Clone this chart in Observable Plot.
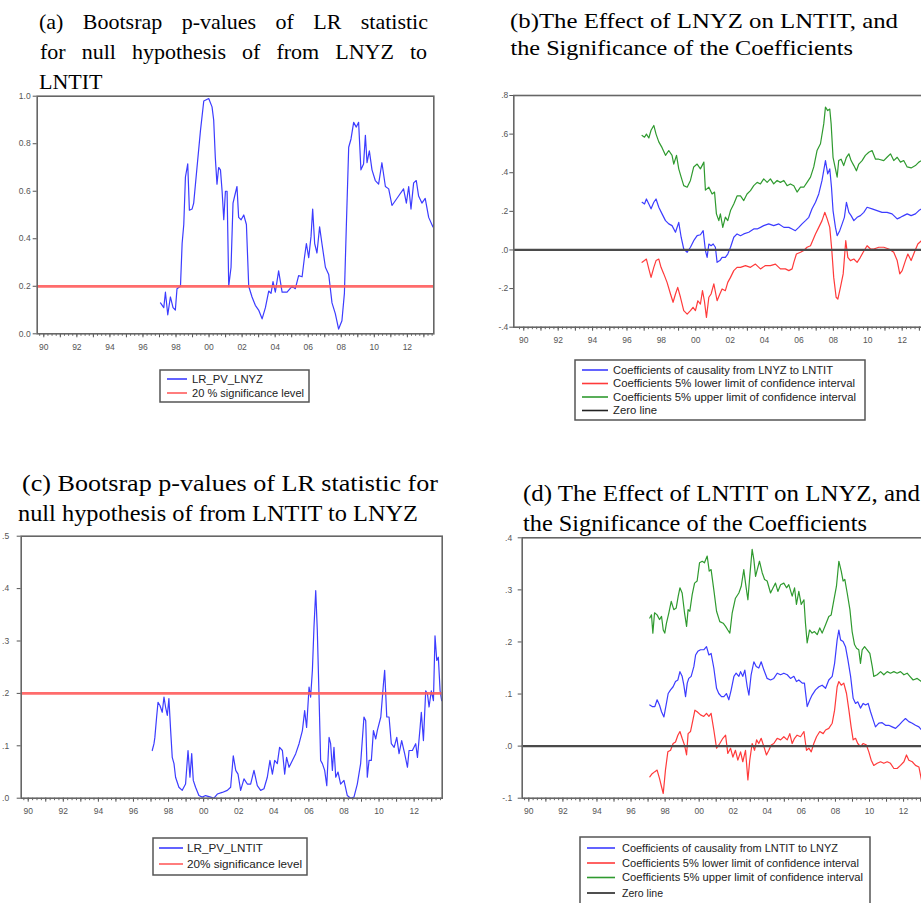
<!DOCTYPE html>
<html><head><meta charset="utf-8">
<script src="https://cdn.jsdelivr.net/npm/d3@7"></script>
<script src="https://cdn.jsdelivr.net/npm/@observablehq/plot@0.6"></script>
<style>
html,body{margin:0;padding:0;background:#fff;overflow:hidden;}
#page{position:relative;width:921px;height:903px;overflow:hidden;background:#fff;}
#page svg{position:absolute;}
</style></head>
<body><div id="page"></div>
<script>
// ---------- tick labels ----------
const xLabelYears = [1990,1992,1994,1996,1998,2000,2002,2004,2006,2008,2010,2012];
const yTicksA = [0,0.2,0.4,0.6,0.8,1.0];
const yTicksB = [-0.4,-0.2,0,0.2,0.4,0.6,0.8];
const yTicksC = [0,0.1,0.2,0.3,0.4,0.5];
const yTicksD = [-0.1,0,0.1,0.2,0.3,0.4];
const sigLevel = 0.2;
const zeroLevel = 0;

// ---------- titles & legend labels ----------
const titleA = ["(a) Bootsrap p-values of LR statistic","for null hypothesis of from LNYZ to","LNTIT"];
const titleB = ["(b)The Effect of LNYZ on LNTIT, and","the Significance of the Coefficients"];
const titleC = ["(c) Bootsrap p-values of LR statistic for","null hypothesis of from LNTIT to LNYZ"];
const titleD = ["(d) The Effect of LNTIT on LNYZ, and","the Significance of the Coefficients"];
const legendA = ["LR_PV_LNYZ","20 % significance level"];
const legendB = ["Coefficients of causality from LNYZ to LNTIT","Coefficients 5% lower limit of confidence interval","Coefficients 5% upper limit of confidence interval","Zero line"];
const legendC = ["LR_PV_LNTIT","20% significance level"];
const legendD = ["Coefficients of causality from LNTIT to LNYZ","Coefficients 5% lower limit of confidence interval","Coefficients 5% upper limit of confidence interval","Zero line"];

// ---------- data (decimal year, value) ----------
const lrPvLnyz = [[1997.06,0.13],[1997.26,0.11],[1997.36,0.175],[1997.50,0.08],[1997.66,0.155],[1997.82,0.11],[1997.96,0.10],[1998.06,0.19],[1998.27,0.20],[1998.37,0.38],[1998.47,0.46],[1998.57,0.66],[1998.71,0.715],[1998.81,0.52],[1998.97,0.525],[1999.07,0.55],[1999.27,0.70],[1999.48,0.855],[1999.68,0.98],[1999.98,0.99],[2000.18,0.955],[2000.28,0.90],[2000.38,0.74],[2000.48,0.63],[2000.58,0.70],[2000.69,0.69],[2000.79,0.60],[2000.89,0.48],[2000.99,0.60],[2001.09,0.60],[2001.19,0.20],[2001.33,0.28],[2001.45,0.55],[2001.55,0.58],[2001.69,0.62],[2001.79,0.49],[2001.94,0.48],[2002.10,0.50],[2002.26,0.46],[2002.40,0.20],[2002.60,0.155],[2002.80,0.12],[2003.00,0.10],[2003.21,0.063],[2003.41,0.11],[2003.61,0.18],[2003.75,0.17],[2003.87,0.22],[2004.01,0.175],[2004.21,0.265],[2004.42,0.175],[2004.72,0.175],[2005.02,0.20],[2005.22,0.19],[2005.42,0.245],[2005.63,0.24],[2005.77,0.32],[2005.89,0.38],[2006.03,0.32],[2006.17,0.41],[2006.27,0.525],[2006.39,0.38],[2006.53,0.34],[2006.69,0.45],[2006.83,0.38],[2007.04,0.28],[2007.24,0.25],[2007.44,0.13],[2007.64,0.085],[2007.84,0.02],[2008.04,0.055],[2008.19,0.17],[2008.31,0.46],[2008.45,0.785],[2008.59,0.82],[2008.75,0.89],[2008.91,0.87],[2009.05,0.89],[2009.19,0.69],[2009.35,0.715],[2009.46,0.835],[2009.56,0.72],[2009.70,0.77],[2009.86,0.69],[2010.06,0.645],[2010.26,0.63],[2010.46,0.72],[2010.67,0.62],[2010.87,0.61],[2011.07,0.54],[2011.27,0.56],[2011.47,0.58],[2011.77,0.61],[2011.94,0.55],[2012.08,0.62],[2012.22,0.525],[2012.38,0.635],[2012.54,0.645],[2012.68,0.58],[2012.88,0.55],[2013.08,0.57],[2013.29,0.49],[2013.55,0.45]];

const coefB = [[1996.88,0.247],[1997.02,0.238],[1997.13,0.264],[1997.27,0.238],[1997.40,0.213],[1997.56,0.247],[1997.69,0.264],[1997.85,0.221],[1998.04,0.187],[1998.24,0.152],[1998.43,0.135],[1998.62,0.126],[1998.82,0.092],[1999.01,0.143],[1999.15,0.066],[1999.30,0.005],[1999.50,-0.012],[1999.69,0.014],[1999.88,0.048],[2000.08,0.074],[2000.27,0.079],[2000.43,0.10],[2000.56,-0.003],[2000.66,-0.038],[2000.76,0.031],[2000.89,0.022],[2001.01,0.031],[2001.14,0.014],[2001.24,-0.064],[2001.40,-0.055],[2001.53,-0.038],[2001.72,-0.038],[2001.86,-0.021],[2002.02,0.014],[2002.21,0.066],[2002.40,0.083],[2002.60,0.074],[2002.79,0.083],[2003.08,0.092],[2003.37,0.109],[2003.57,0.109],[2003.76,0.117],[2003.95,0.126],[2004.24,0.135],[2004.53,0.126],[2004.83,0.135],[2005.12,0.117],[2005.41,0.117],[2005.60,0.109],[2005.79,0.10],[2005.99,0.117],[2006.18,0.135],[2006.38,0.152],[2006.57,0.169],[2006.76,0.213],[2006.96,0.247],[2007.15,0.29],[2007.34,0.36],[2007.54,0.463],[2007.67,0.394],[2007.79,0.42],[2007.89,0.325],[2007.98,0.204],[2008.12,0.117],[2008.22,0.074],[2008.37,0.10],[2008.51,0.135],[2008.64,0.169],[2008.76,0.247],[2008.90,0.195],[2009.03,0.178],[2009.19,0.152],[2009.38,0.169],[2009.57,0.178],[2009.77,0.195],[2009.96,0.221],[2010.25,0.213],[2010.54,0.204],[2010.83,0.195],[2011.12,0.195],[2011.41,0.187],[2011.71,0.161],[2011.90,0.169],[2012.09,0.178],[2012.29,0.187],[2012.52,0.178],[2012.77,0.187],[2012.97,0.204],[2013.12,0.213]];
const lowerB = [[1996.88,-0.064],[1997.02,-0.055],[1997.13,-0.047],[1997.27,-0.098],[1997.40,-0.142],[1997.56,-0.09],[1997.69,-0.055],[1997.85,-0.047],[1997.98,-0.09],[1998.14,-0.124],[1998.33,-0.168],[1998.53,-0.228],[1998.68,-0.271],[1998.82,-0.228],[1998.95,-0.194],[1999.11,-0.245],[1999.30,-0.314],[1999.50,-0.332],[1999.69,-0.314],[1999.84,-0.297],[1999.98,-0.314],[2000.12,-0.263],[2000.27,-0.28],[2000.39,-0.211],[2000.50,-0.263],[2000.62,-0.349],[2000.76,-0.245],[2000.89,-0.228],[2001.05,-0.176],[2001.24,-0.263],[2001.40,-0.228],[2001.53,-0.202],[2001.72,-0.211],[2001.86,-0.168],[2002.02,-0.142],[2002.21,-0.107],[2002.40,-0.09],[2002.60,-0.09],[2002.89,-0.081],[2003.18,-0.09],[2003.47,-0.073],[2003.76,-0.098],[2004.05,-0.081],[2004.34,-0.081],[2004.63,-0.073],[2004.92,-0.098],[2005.21,-0.098],[2005.41,-0.107],[2005.60,-0.098],[2005.70,-0.064],[2005.85,-0.021],[2006.09,-0.012],[2006.28,-0.003],[2006.47,0.014],[2006.67,0.022],[2006.96,0.083],[2007.15,0.117],[2007.34,0.152],[2007.50,0.195],[2007.64,0.161],[2007.79,0.117],[2007.91,-0.003],[2008.02,-0.142],[2008.16,-0.245],[2008.26,-0.254],[2008.41,-0.194],[2008.57,-0.124],[2008.72,0.048],[2008.84,-0.038],[2008.99,-0.055],[2009.19,-0.047],[2009.38,-0.064],[2009.57,-0.038],[2009.73,-0.012],[2009.96,0.022],[2010.16,0.005],[2010.35,0.005],[2010.64,0.014],[2010.93,0.014],[2011.22,0.005],[2011.51,-0.012],[2011.71,-0.055],[2011.86,-0.124],[2012.00,-0.107],[2012.19,-0.055],[2012.33,-0.021],[2012.52,-0.055],[2012.71,-0.012],[2012.91,0.031],[2013.12,0.048]];
const upperB = [[1996.88,0.593],[1997.02,0.584],[1997.13,0.60],[1997.27,0.58],[1997.40,0.62],[1997.56,0.645],[1997.69,0.60],[1997.85,0.56],[1998.04,0.53],[1998.24,0.49],[1998.43,0.515],[1998.62,0.49],[1998.72,0.445],[1998.88,0.49],[1999.01,0.42],[1999.15,0.377],[1999.30,0.333],[1999.50,0.325],[1999.69,0.36],[1999.88,0.43],[2000.08,0.445],[2000.27,0.42],[2000.47,0.455],[2000.56,0.31],[2000.76,0.325],[2000.95,0.29],[2001.09,0.30],[2001.20,0.187],[2001.34,0.152],[2001.43,0.187],[2001.57,0.117],[2001.72,0.17],[2001.86,0.152],[2002.02,0.204],[2002.21,0.238],[2002.40,0.28],[2002.60,0.28],[2002.79,0.256],[2002.98,0.29],[2003.18,0.307],[2003.37,0.333],[2003.57,0.35],[2003.76,0.342],[2003.95,0.368],[2004.15,0.35],[2004.34,0.368],[2004.53,0.342],[2004.73,0.36],[2004.92,0.35],[2005.12,0.36],[2005.31,0.333],[2005.50,0.342],[2005.70,0.333],[2005.89,0.30],[2006.09,0.325],[2006.28,0.325],[2006.47,0.35],[2006.67,0.377],[2006.86,0.43],[2007.05,0.515],[2007.25,0.55],[2007.44,0.653],[2007.54,0.74],[2007.67,0.722],[2007.79,0.73],[2007.87,0.653],[2007.98,0.48],[2008.12,0.42],[2008.22,0.377],[2008.31,0.463],[2008.45,0.47],[2008.60,0.437],[2008.76,0.48],[2008.90,0.498],[2009.03,0.463],[2009.19,0.437],[2009.34,0.41],[2009.48,0.445],[2009.67,0.463],[2009.86,0.49],[2010.06,0.506],[2010.25,0.515],[2010.45,0.47],[2010.64,0.47],[2010.93,0.463],[2011.12,0.48],[2011.32,0.498],[2011.51,0.463],[2011.71,0.48],[2011.90,0.455],[2012.09,0.463],[2012.29,0.43],[2012.52,0.425],[2012.77,0.437],[2012.97,0.455],[2013.12,0.463]];

const lrPvLntit = [[1997.07,0.091],[1997.17,0.104],[1997.22,0.116],[1997.32,0.155],[1997.40,0.183],[1997.51,0.177],[1997.64,0.164],[1997.74,0.193],[1997.83,0.174],[1997.93,0.158],[1998.02,0.19],[1998.12,0.129],[1998.21,0.078],[1998.31,0.066],[1998.40,0.040],[1998.59,0.021],[1998.78,0.015],[1998.97,0.027],[1999.11,0.091],[1999.22,0.040],[1999.32,0.085],[1999.41,0.034],[1999.54,0.021],[1999.73,0.005],[1999.92,0.002],[2000.11,0.005],[2000.40,0.002],[2000.59,0.0],[2000.78,0.008],[2001.06,0.011],[2001.35,0.015],[2001.54,0.021],[2001.69,0.081],[2001.83,0.053],[2001.96,0.046],[2002.11,0.015],[2002.30,0.037],[2002.49,0.027],[2002.68,0.027],[2002.87,0.053],[2003.06,0.024],[2003.25,0.015],[2003.44,0.018],[2003.63,0.040],[2003.78,0.072],[2003.92,0.046],[2004.05,0.072],[2004.20,0.066],[2004.33,0.097],[2004.49,0.091],[2004.62,0.046],[2004.73,0.078],[2004.87,0.059],[2005.06,0.072],[2005.25,0.085],[2005.44,0.104],[2005.63,0.129],[2005.76,0.167],[2005.87,0.135],[2006.01,0.212],[2006.10,0.193],[2006.20,0.244],[2006.29,0.326],[2006.39,0.396],[2006.48,0.32],[2006.58,0.193],[2006.67,0.072],[2006.77,0.066],[2006.90,0.053],[2007.02,0.024],[2007.15,0.116],[2007.24,0.104],[2007.34,0.053],[2007.43,0.097],[2007.53,0.040],[2007.66,0.050],[2007.81,0.027],[2008.00,0.034],[2008.19,0.005],[2008.38,0.0],[2008.57,0.002],[2008.76,0.027],[2008.95,0.066],[2009.14,0.155],[2009.24,0.148],[2009.33,0.040],[2009.43,0.072],[2009.56,0.072],[2009.68,0.129],[2009.81,0.113],[2009.90,0.129],[2010.10,0.155],[2010.25,0.218],[2010.32,0.244],[2010.44,0.155],[2010.57,0.155],[2010.70,0.104],[2010.86,0.097],[2011.01,0.116],[2011.14,0.085],[2011.29,0.11],[2011.46,0.085],[2011.62,0.059],[2011.71,0.091],[2011.90,0.091],[2012.09,0.104],[2012.19,0.078],[2012.34,0.135],[2012.41,0.164],[2012.53,0.11],[2012.66,0.205],[2012.76,0.199],[2012.85,0.174],[2012.98,0.205],[2013.10,0.186],[2013.19,0.31],[2013.29,0.263],[2013.38,0.269],[2013.48,0.205],[2013.57,0.186]];

const coefD = [[1997.10,0.079],[1997.24,0.076],[1997.40,0.076],[1997.53,0.089],[1997.67,0.079],[1997.79,0.066],[1997.93,0.056],[1998.06,0.079],[1998.18,0.101],[1998.32,0.108],[1998.47,0.114],[1998.61,0.124],[1998.75,0.127],[1998.87,0.143],[1999.00,0.134],[1999.10,0.117],[1999.20,0.095],[1999.30,0.121],[1999.39,0.13],[1999.53,0.134],[1999.69,0.153],[1999.79,0.175],[1999.92,0.182],[2000.08,0.185],[2000.27,0.185],[2000.43,0.191],[2000.57,0.175],[2000.70,0.178],[2000.86,0.15],[2001.02,0.111],[2001.15,0.101],[2001.31,0.095],[2001.45,0.095],[2001.60,0.101],[2001.74,0.089],[2001.88,0.108],[2002.04,0.134],[2002.17,0.140],[2002.33,0.134],[2002.43,0.143],[2002.56,0.134],[2002.68,0.146],[2002.82,0.114],[2002.92,0.098],[2003.05,0.137],[2003.21,0.162],[2003.35,0.153],[2003.50,0.15],[2003.64,0.162],[2003.80,0.146],[2003.99,0.13],[2004.19,0.127],[2004.38,0.13],[2004.58,0.140],[2004.78,0.137],[2004.97,0.140],[2005.17,0.137],[2005.36,0.13],[2005.56,0.134],[2005.71,0.124],[2005.85,0.127],[2006.05,0.121],[2006.18,0.121],[2006.34,0.076],[2006.50,0.089],[2006.63,0.098],[2006.83,0.108],[2007.03,0.114],[2007.22,0.117],[2007.42,0.111],[2007.61,0.127],[2007.81,0.134],[2007.95,0.159],[2008.10,0.204],[2008.20,0.223],[2008.30,0.204],[2008.45,0.201],[2008.59,0.191],[2008.73,0.166],[2008.89,0.134],[2009.04,0.092],[2009.18,0.082],[2009.31,0.085],[2009.47,0.073],[2009.63,0.082],[2009.77,0.079],[2009.92,0.082],[2010.06,0.066],[2010.22,0.05],[2010.35,0.037],[2010.55,0.044],[2010.74,0.045],[2010.94,0.04],[2011.13,0.04],[2011.33,0.037],[2011.53,0.034],[2011.72,0.04],[2011.92,0.047],[2012.11,0.053],[2012.31,0.047],[2012.51,0.044],[2012.70,0.04],[2012.90,0.037],[2013.05,0.031]];
const lowerD = [[1997.10,-0.059],[1997.24,-0.053],[1997.40,-0.049],[1997.53,-0.046],[1997.67,-0.062],[1997.79,-0.078],[1997.89,-0.091],[1998.02,-0.046],[1998.16,-0.011],[1998.32,-0.008],[1998.47,0.005],[1998.61,0.008],[1998.75,0.021],[1998.87,0.028],[1999.00,0.015],[1999.14,0.002],[1999.26,-0.017],[1999.35,0.024],[1999.49,0.028],[1999.63,0.05],[1999.75,0.069],[1999.88,0.066],[2000.08,0.06],[2000.27,0.057],[2000.43,0.063],[2000.57,0.057],[2000.70,0.063],[2000.86,0.031],[2001.02,-0.004],[2001.21,0.005],[2001.39,0.015],[2001.55,0.021],[2001.68,-0.014],[2001.84,-0.004],[2001.98,-0.021],[2002.13,-0.008],[2002.27,-0.027],[2002.43,-0.011],[2002.56,-0.03],[2002.72,-0.008],[2002.86,-0.065],[2002.97,-0.027],[2003.11,0.005],[2003.25,-0.008],[2003.37,0.012],[2003.50,0.005],[2003.64,0.015],[2003.80,-0.001],[2003.95,-0.017],[2004.09,-0.008],[2004.23,0.002],[2004.38,0.005],[2004.58,0.015],[2004.78,0.012],[2004.97,0.018],[2005.17,0.012],[2005.32,0.024],[2005.46,0.005],[2005.60,0.015],[2005.75,0.021],[2005.95,0.018],[2006.15,0.028],[2006.30,-0.008],[2006.44,-0.004],[2006.58,-0.011],[2006.73,0.005],[2006.89,0.018],[2007.08,0.028],[2007.28,0.024],[2007.42,0.031],[2007.61,0.034],[2007.81,0.044],[2007.95,0.069],[2008.10,0.114],[2008.20,0.124],[2008.34,0.117],[2008.49,0.121],[2008.65,0.101],[2008.79,0.069],[2008.92,0.037],[2009.04,0.012],[2009.18,0.015],[2009.31,0.005],[2009.47,-0.001],[2009.63,0.005],[2009.82,0.002],[2009.96,-0.011],[2010.10,-0.027],[2010.25,-0.037],[2010.45,-0.033],[2010.65,-0.03],[2010.84,-0.033],[2011.04,-0.03],[2011.23,-0.033],[2011.43,-0.043],[2011.62,-0.043],[2011.82,-0.037],[2012.02,-0.03],[2012.17,-0.017],[2012.31,-0.027],[2012.51,-0.03],[2012.70,-0.037],[2012.90,-0.04],[2013.05,-0.065]];
const upperD = [[1997.10,0.246],[1997.20,0.252],[1997.28,0.217],[1997.38,0.256],[1997.53,0.252],[1997.67,0.243],[1997.79,0.249],[1997.89,0.223],[1997.98,0.217],[1998.08,0.236],[1998.22,0.256],[1998.36,0.278],[1998.51,0.262],[1998.65,0.265],[1998.77,0.288],[1998.87,0.304],[1999.00,0.294],[1999.14,0.256],[1999.26,0.23],[1999.35,0.262],[1999.45,0.259],[1999.59,0.291],[1999.73,0.313],[1999.88,0.317],[2000.02,0.352],[2000.18,0.355],[2000.31,0.352],[2000.47,0.365],[2000.59,0.336],[2000.70,0.339],[2000.86,0.30],[2001.02,0.259],[2001.21,0.239],[2001.41,0.236],[2001.55,0.23],[2001.68,0.223],[2001.80,0.217],[2001.94,0.256],[2002.13,0.284],[2002.33,0.294],[2002.47,0.307],[2002.62,0.339],[2002.72,0.313],[2002.86,0.281],[2002.97,0.326],[2003.11,0.378],[2003.21,0.358],[2003.31,0.326],[2003.41,0.339],[2003.54,0.355],[2003.70,0.333],[2003.84,0.32],[2003.99,0.317],[2004.19,0.294],[2004.34,0.304],[2004.48,0.313],[2004.62,0.297],[2004.78,0.31],[2004.97,0.313],[2005.13,0.304],[2005.26,0.31],[2005.46,0.288],[2005.60,0.304],[2005.71,0.272],[2005.85,0.297],[2005.99,0.272],[2006.15,0.281],[2006.24,0.236],[2006.34,0.198],[2006.48,0.223],[2006.63,0.217],[2006.77,0.220],[2006.93,0.214],[2007.08,0.227],[2007.22,0.217],[2007.42,0.233],[2007.61,0.249],[2007.75,0.252],[2007.91,0.281],[2008.06,0.307],[2008.20,0.355],[2008.34,0.336],[2008.45,0.317],[2008.55,0.32],[2008.69,0.294],[2008.85,0.262],[2008.98,0.220],[2009.12,0.195],[2009.24,0.188],[2009.37,0.185],[2009.47,0.159],[2009.57,0.185],[2009.71,0.191],[2009.86,0.185],[2010.02,0.178],[2010.16,0.153],[2010.25,0.134],[2010.45,0.137],[2010.65,0.143],[2010.84,0.137],[2011.04,0.143],[2011.23,0.14],[2011.43,0.143],[2011.62,0.14],[2011.82,0.143],[2012.02,0.137],[2012.21,0.14],[2012.37,0.134],[2012.56,0.127],[2012.80,0.13],[2013.05,0.124]];

// ---------- styles ----------
const BLUE = "#3c3cff", RED = "#ff3a3a", GREEN = "#2f9a2f", SIGRED = "#ff5c5c", ZERO = "#4a4a4a";
const page = document.getElementById("page");
const minorTicks = d3.range(1989.75, 2013.6, 0.25);
const yearTicks = d3.range(1990, 2014, 1);
const fmtA = d => d.toFixed(1);
const fmtDot = d => d === 0 ? ".0" : (d < 0 ? "-" : "") + Math.abs(d).toFixed(1).replace(/^0/, "");
const fmtYear = d => String(d % 100).padStart(2, "0");

function panel(o) {
  const fig = Plot.plot({
    width: o.w, height: o.h,
    marginLeft: o.fl - o.left, marginTop: o.ft - o.top,
    marginRight: o.left + o.w - o.fr, marginBottom: o.top + o.h - o.fb,
    x: {type: "linear", domain: o.xd},
    y: {type: "linear", domain: o.yd},
    style: {fontFamily: "'Liberation Sans', Arial, sans-serif", fontSize: "8.5px", background: "transparent", overflow: "visible"},
    marks: [
      Plot.axisX({ticks: minorTicks, tickSize: 2.5, tickFormat: () => "", color: "#666", label: null}),
      Plot.axisX({ticks: yearTicks, tickSize: 4, tickFormat: () => "", color: "#555", label: null}),
      Plot.axisX({ticks: xLabelYears, tickSize: 0, tickPadding: 10, tickFormat: fmtYear, color: "#555", label: null}),
      Plot.axisY({ticks: o.yt, tickSize: 4, tickPadding: o.ypad, tickFormat: o.yf, color: "#555", label: null}),
      ...o.marks,
      Plot.frame({stroke: "#666", strokeWidth: 1.6})
    ]
  });
  fig.style.left = o.left + "px";
  fig.style.top = o.top + "px";
  page.appendChild(fig);
}
const L = (data, stroke, w = 1.2) => Plot.line(data, {x: d => d[0], y: d => d[1], stroke, strokeWidth: w});

panel({left: 0, top: 86, w: 445, h: 280, fl: 36.7, ft: 95.7, fr: 433.3, fb: 333.3,
  xd: [1989.6, 2013.6], yd: [0, 1], yt: yTicksA, yf: fmtA, ypad: 2.5,
  marks: [L(lrPvLnyz, BLUE), Plot.ruleY([sigLevel], {stroke: SIGRED, strokeWidth: 2.8, strokeOpacity: 0.9})]});
panel({left: 490, top: 86, w: 445, h: 270, fl: 513.3, ft: 95, fr: 926.1, fb: 326.7,
  xd: [1989.42, 2013.42], yd: [-0.4, 0.8], yt: yTicksB, yf: fmtDot, ypad: 1.5,
  marks: [L(upperB, GREEN), L(coefB, BLUE), L(lowerB, RED), Plot.ruleY([zeroLevel], {stroke: ZERO, strokeWidth: 2.2})]});
panel({left: 0, top: 528, w: 450, h: 300, fl: 20.7, ft: 535.7, fr: 441.7, fb: 797.7,
  xd: [1989.6, 2013.6], yd: [0, 0.5], yt: yTicksC, yf: fmtDot, ypad: 8,
  marks: [L(lrPvLntit, BLUE), Plot.ruleY([sigLevel], {stroke: SIGRED, strokeWidth: 2.8, strokeOpacity: 0.9})]});
panel({left: 490, top: 528, w: 450, h: 300, fl: 521.7, ft: 537.3, fr: 930.5, fb: 797.7,
  xd: [1989.61, 2013.61], yd: [-0.1, 0.4], yt: yTicksD, yf: fmtDot, ypad: 6,
  marks: [L(upperD, GREEN), L(coefD, BLUE), L(lowerD, RED), Plot.ruleY([zeroLevel], {stroke: ZERO, strokeWidth: 2.2})]});

// ---------- overlay: titles and legends ----------
const ov = d3.select(page).append("svg").attr("width", 921).attr("height", 903)
  .style("left", "0px").style("top", "0px").style("pointer-events", "none");
const serif = "'Liberation Serif','Times New Roman',serif";
const sans = "'Liberation Sans',Arial,sans-serif";

function justify(text, x0, x1, y) {
  const words = text.split(" ");
  const els = words.map(w => ov.append("text").attr("y", y).attr("font-family", serif).attr("font-size", 22).attr("fill", "#000").text(w));
  const widths = els.map(e => e.node().getComputedTextLength());
  const gap = (x1 - x0 - d3.sum(widths)) / (words.length - 1);
  let x = x0;
  els.forEach((e, i) => { e.attr("x", x); x += widths[i] + gap; });
}
function fitText(text, x0, x1, y, size = 22) {
  ov.append("text").attr("x", x0).attr("y", y).attr("font-family", serif).attr("font-size", size).attr("fill", "#000")
    .attr("textLength", x1 - x0).attr("lengthAdjust", "spacingAndGlyphs").text(text);
}
justify(titleA[0], 39, 428, 29);
justify(titleA[1], 40, 427, 59);
ov.append("text").attr("x", 39).attr("y", 89).attr("font-family", serif).attr("font-size", 22).text(titleA[2]);
fitText(titleB[0], 510, 898, 28);
fitText(titleB[1], 510.5, 853, 55);
fitText(titleC[0], 22, 438, 491, 24);
fitText(titleC[1], 18, 418, 521, 24);
fitText(titleD[0], 523, 920, 501, 24);
fitText(titleD[1], 523, 867, 531, 24);

function legend(box, sx0, sx1, tx, items) {
  ov.append("rect").attr("x", box[0]).attr("y", box[1]).attr("width", box[2] - box[0]).attr("height", box[3] - box[1])
    .attr("fill", "#fff").attr("stroke", "#555").attr("stroke-width", 1.5);
  items.forEach(it => {
    ov.append("line").attr("x1", sx0).attr("x2", sx1).attr("y1", it.y).attr("y2", it.y).attr("stroke", it.color).attr("stroke-width", 1.6);
    ov.append("text").attr("x", tx).attr("y", it.y + 3.5).attr("font-family", sans).attr("font-size", 10).attr("fill", "#222")
      .attr("textLength", it.w).attr("lengthAdjust", "spacingAndGlyphs").text(it.text);
  });
}
legend([160, 370, 309, 402], 167, 187, 192, [
  {y: 379, color: BLUE, text: legendA[0], w: 71},
  {y: 393, color: SIGRED, text: legendA[1], w: 112}]);
legend([575, 360, 865, 420], 582, 608, 613, [
  {y: 370, color: BLUE, text: legendB[0], w: 220},
  {y: 383.5, color: RED, text: legendB[1], w: 242},
  {y: 397, color: GREEN, text: legendB[2], w: 243},
  {y: 410.5, color: "#222", text: legendB[3], w: 44}]);
legend([153, 838, 307, 875], 159, 183, 187, [
  {y: 848, color: BLUE, text: legendC[0], w: 76},
  {y: 864, color: SIGRED, text: legendC[1], w: 115}]);
legend([580, 837, 870, 912], 587, 615, 622, [
  {y: 848, color: BLUE, text: legendD[0], w: 216},
  {y: 863, color: RED, text: legendD[1], w: 237},
  {y: 877.5, color: GREEN, text: legendD[2], w: 241},
  {y: 893, color: "#222", text: legendD[3], w: 41}]);
</script>
</body></html>
